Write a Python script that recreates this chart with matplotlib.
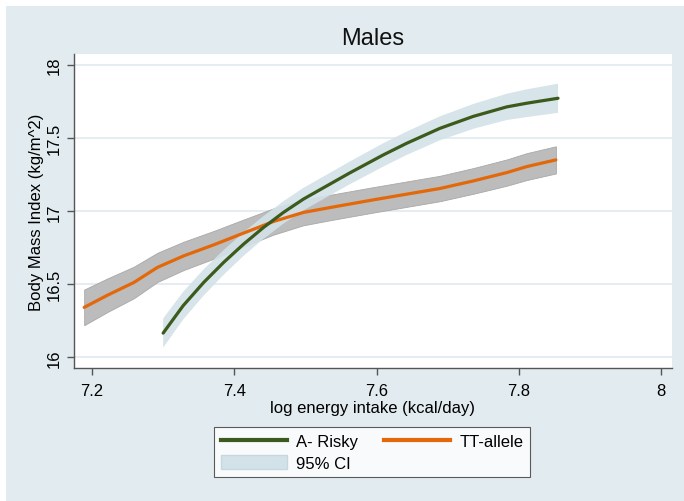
import numpy as np
import matplotlib
matplotlib.use('Agg')
import matplotlib.pyplot as plt
from matplotlib.patches import Rectangle, Patch
from matplotlib.lines import Line2D

plt.rcParams['font.family'] = ['Liberation Sans', 'DejaVu Sans']

# A-Risky fit and 95% CI
risky_x = [7.300, 7.328, 7.357, 7.385, 7.413, 7.441, 7.469, 7.497, 7.530,
           7.562, 7.609, 7.642, 7.689, 7.736, 7.783, 7.811, 7.855]
risky_y = [16.166, 16.353, 16.513, 16.650, 16.775, 16.889, 16.992, 17.083, 17.174,
           17.262, 17.385, 17.465, 17.568, 17.650, 17.715, 17.740, 17.774]
risky_lo = [16.066, 16.258, 16.423, 16.565, 16.695, 16.811, 16.915, 17.006, 17.097,
            17.184, 17.305, 17.385, 17.486, 17.565, 17.625, 17.645, 17.674]
risky_hi = [16.266, 16.448, 16.603, 16.735, 16.855, 16.967, 17.069, 17.160, 17.251,
            17.340, 17.465, 17.545, 17.650, 17.735, 17.805, 17.835, 17.874]

# TT-allele fit and 95% CI
tt_x = [7.189, 7.222, 7.259, 7.292, 7.329, 7.372, 7.409, 7.455, 7.497,
        7.535, 7.595, 7.642, 7.689, 7.736, 7.783, 7.811, 7.852]
tt_y = [16.342, 16.426, 16.513, 16.616, 16.695, 16.772, 16.843, 16.930, 16.992,
        17.026, 17.078, 17.117, 17.156, 17.208, 17.265, 17.306, 17.352]
tt_lo = [16.220, 16.311, 16.405, 16.516, 16.598, 16.677, 16.750, 16.840, 16.904,
         16.939, 16.991, 17.030, 17.069, 17.120, 17.175, 17.214, 17.259]
tt_hi = [16.464, 16.541, 16.621, 16.716, 16.792, 16.867, 16.936, 17.020, 17.080,
         17.113, 17.165, 17.204, 17.243, 17.296, 17.355, 17.398, 17.445]

x_ticks = [7.2, 7.4, 7.6, 7.8, 8.0]
x_tick_labels = ['7.2', '7.4', '7.6', '7.8', '8']
y_ticks = [16, 16.5, 17, 17.5, 18]
y_tick_labels = ['16', '16.5', '17', '17.5', '18']

bg = '#e2ebef'
green = '#3b5a1b'
orange = '#e2680a'
band_blue = '#d3e2e8'
band_gray = '#bcbcbc'

W, H = 684, 502
fig = plt.figure(figsize=(W / 100, H / 100), dpi=100)
fig.patches.append(Rectangle((6 / W, 0), 1 - 6 / W, 1 - 7 / H,
                             transform=fig.transFigure, facecolor=bg,
                             edgecolor='none', zorder=-10))

ax = fig.add_axes([74 / W, 1 - 369 / H, (672 - 74) / W, (369 - 55) / H])
ax.set_facecolor('white')

ax.fill_between(tt_x, tt_lo, tt_hi, facecolor=band_gray, edgecolor='#a8a8a8',
                linewidth=0.6, zorder=2)
ax.fill_between(risky_x, risky_lo, risky_hi, facecolor=band_blue, edgecolor='none',
                alpha=0.9, zorder=3)
ax.plot(tt_x, tt_y, color=orange, lw=2.3, zorder=4, solid_capstyle='round')
ax.plot(risky_x, risky_y, color=green, lw=2.3, zorder=5, solid_capstyle='round')

ax.set_xlim(7.1747, 8.0152)
ax.set_ylim(15.927, 18.077)
ax.set_xticks(x_ticks)
ax.set_xticklabels(x_tick_labels)
ax.set_yticks(y_ticks)
ax.set_yticklabels(y_tick_labels, rotation=90, va='center')
ax.tick_params(axis='both', labelsize=12, length=5, width=1, color='#555555',
               labelcolor='black')
ax.tick_params(axis='x', pad=6)
ax.tick_params(axis='y', pad=4)

ax.grid(axis='y', color='#dde8ed', lw=1.1, zorder=0)
ax.set_axisbelow(True)
for side in ['top', 'right']:
    ax.spines[side].set_visible(False)
for side in ['left', 'bottom']:
    ax.spines[side].set_color('#555555')
    ax.spines[side].set_linewidth(1)

ax.set_xlabel('log energy intake (kcal/day)', fontsize=12, labelpad=1)
ax.set_ylabel('Body Mass Index (kg/m^2)', fontsize=12, labelpad=2)
ax.set_title('Males', fontsize=17, pad=7, color='#111111')

handles = [Line2D([], [], color=green, lw=3),
           Patch(facecolor=band_blue, edgecolor='#c5d8e0'),
           Line2D([], [], color=orange, lw=3)]
labels = ['A- Risky', '95% CI', 'TT-allele']
leg = fig.legend(handles, labels, ncol=2, loc='center',
                 bbox_to_anchor=(372 / W, 1 - 453 / H), fontsize=12,
                 frameon=True, fancybox=False, handlelength=4.0,
                 handleheight=1.0, handletextpad=0.55, columnspacing=1.5,
                 labelspacing=0.3, borderpad=0.4)
leg.get_frame().set_edgecolor('#333333')
leg.get_frame().set_linewidth(0.8)

fig.savefig('out.png', dpi=100)
